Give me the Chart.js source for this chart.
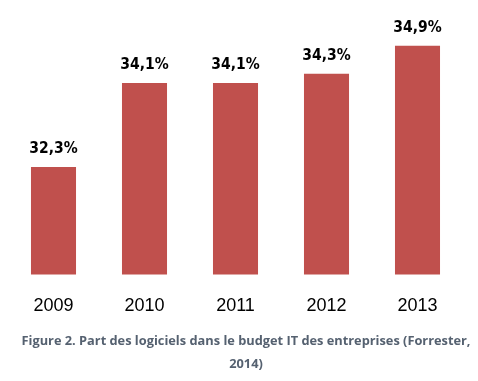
<!DOCTYPE html>
<html>
<head>
<meta charset="utf-8">
<script src="https://cdn.jsdelivr.net/npm/chart.js@4"></script>
<style>
  html, body { margin: 0; padding: 0; background: #fff; }
  #wrap { position: relative; width: 478px; height: 381px; }
  #box { position: absolute; left: 0; top: 0; width: 478px; height: 330px; }
  #caption {
    position: absolute; left: 18px; top: 329px; width: 456px;
    text-align: center; font-family: 'Open Sans', sans-serif; font-weight: bold;
    font-size: 12.8px; line-height: 23px; color: #556170;
  }
</style>
</head>
<body>
<div id="wrap">
  <div id="box"><canvas id="chart"></canvas></div>
  <div id="caption">Figure 2. Part des logiciels dans le budget IT des entreprises (Forrester, 2014)</div>
</div>
<script>
// Données
const years = ['2009', '2010', '2011', '2012', '2013'];
const shares = [32.3, 34.1, 34.1, 34.3, 34.9];
const shareLabels = ['32,3%', '34,1%', '34,1%', '34,3%', '34,9%'];

// Plugin pour écrire les valeurs au-dessus des barres
const valueLabels = {
    id: 'valueLabels',
    afterDatasetsDraw(chart) {
        const ctx = chart.ctx;
        const meta = chart.getDatasetMeta(0);
        ctx.save();
        ctx.font = 'bold 15.5px "DejaVu Sans Condensed", "DejaVu Sans", sans-serif';
        ctx.fillStyle = '#000';
        ctx.textAlign = 'center';
        ctx.textBaseline = 'bottom';
        meta.data.forEach((bar, i) => {
            ctx.fillText(shareLabels[i], bar.x, bar.y - 10);
        });
        ctx.restore();
    }
};

const ctx = document.getElementById('chart').getContext('2d');
const chart = new Chart(ctx, {
    type: 'bar',
    data: {
        labels: years,
        datasets: [{
            data: shares,
            backgroundColor: '#C0504D',
            barPercentage: 0.495,
            categoryPercentage: 1
        }]
    },
    options: {
        responsive: true,
        maintainAspectRatio: false,
        animation: false,
        layout: { padding: { left: 8, right: 15, top: 41, bottom: 0 } },
        plugins: {
            legend: { display: false },
            tooltip: { enabled: false }
        },
        scales: {
            x: {
                grid: { display: false },
                border: { display: false },
                ticks: {
                    color: '#000',
                    padding: 13,
                    font: { family: '"Liberation Sans", Arial, sans-serif', size: 18 }
                }
            },
            y: {
                display: false,
                min: 30,
                max: 35
            }
        }
    },
    plugins: [valueLabels]
});
</script>
</body>
</html>
